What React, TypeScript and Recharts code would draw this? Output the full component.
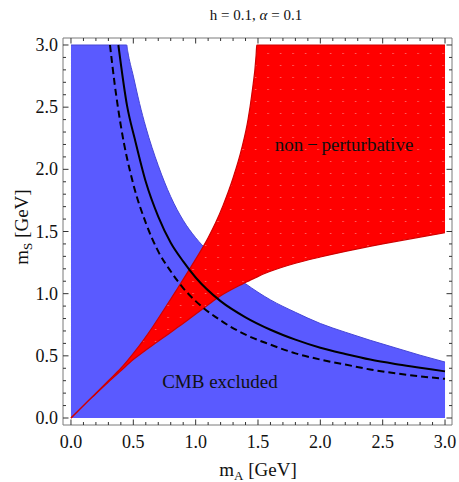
import React from "react";
import {
  ComposedChart,
  Area,
  Line,
  XAxis,
  YAxis,
  ReferenceDot,
} from "recharts";

// CMB exclusion band (upper edge, fills down to 0)
const blueX = [0, 0.2, 0.447, 0.455, 0.5, 0.55, 0.6, 0.7, 0.8, 0.9, 1.0, 1.1, 1.2, 1.4, 1.6, 1.8, 2.0, 2.2, 2.4, 2.6, 2.8, 3.0];
const blueTop = [3, 3, 3, 2.95, 2.75, 2.53, 2.34, 2.03, 1.78, 1.59, 1.45, 1.34, 1.24, 1.08, 0.95, 0.85, 0.76, 0.69, 0.625, 0.565, 0.505, 0.45];

// solid relic curve
const solidX = [0.38, 0.45, 0.513, 0.6, 0.7, 0.8, 0.9, 1.0, 1.2, 1.4, 1.6, 1.8, 2.0, 2.2, 2.4, 2.6, 2.8, 3.0];
const solidY = [3.0, 2.51, 2.24, 1.9, 1.62, 1.41, 1.26, 1.13, 0.94, 0.81, 0.71, 0.63, 0.565, 0.515, 0.47, 0.435, 0.405, 0.375];

// dashed relic curve
const dashedX = [0.313, 0.35, 0.4, 0.5, 0.6, 0.7, 0.8, 0.9, 1.0, 1.2, 1.4, 1.6, 1.8, 2.0, 2.2, 2.4, 2.6, 2.8, 3.0];
const dashedY = [3.0, 2.69, 2.35, 1.88, 1.57, 1.34, 1.18, 1.045, 0.94, 0.785, 0.67, 0.59, 0.52, 0.47, 0.43, 0.39, 0.36, 0.335, 0.315];

// non-perturbative region, lower and upper edges
const redX = [0, 0.1, 0.2, 0.3, 0.4, 0.5, 0.58, 0.66, 0.754, 0.85, 0.94, 1.02, 1.1, 1.16, 1.22, 1.3, 1.37, 1.42, 1.45, 1.485, 1.49, 1.6, 1.8, 2.0, 2.2, 2.5, 2.8, 3.0];
const redLow = [0, 0.1, 0.195, 0.29, 0.38, 0.47, 0.53, 0.59, 0.655, 0.725, 0.79, 0.85, 0.91, 0.955, 0.995, 1.04, 1.075, 1.1, 1.115, 1.13, 1.133, 1.18, 1.245, 1.295, 1.34, 1.4, 1.455, 1.49];
const redHigh = [0, 0.1, 0.2, 0.3, 0.4, 0.52, 0.625, 0.74, 0.885, 1.035, 1.18, 1.31, 1.45, 1.57, 1.71, 1.93, 2.17, 2.4, 2.6, 2.92, 3.0, 3, 3, 3, 3, 3, 3, 3];

const majorTicks = [0, 0.5, 1.0, 1.5, 2.0, 2.5, 3.0];
const allTicks = Array.from({ length: 31 }, (_, i) => i / 10);

const blueData = blueX.map((x, i) => ({ x, y: blueTop[i] }));
const solidData = solidX.map((x, i) => ({ x, y: solidY[i] }));
const dashedData = dashedX.map((x, i) => ({ x, y: dashedY[i] }));
const redData = redX.map((x, i) => ({ x, range: [redLow[i], redHigh[i]] }));

const FONT = "'Liberation Serif', 'Times New Roman', serif";
const FRAME = "#7a7a7a";
const TICK = "#333";

const isMajor = (v: number) => majorTicks.some((m) => Math.abs(m - v) < 1e-6);

function makeTick(side: "bottom" | "left" | "top" | "right") {
  return (props: any) => {
    const { x, y, payload } = props;
    const v = payload.value as number;
    const len = isMajor(v) ? 5.5 : 3;
    let line;
    if (side === "bottom") line = <line x1={x} x2={x} y1={y} y2={y - len} stroke={TICK} />;
    else if (side === "top") line = <line x1={x} x2={x} y1={y} y2={y + len} stroke={TICK} />;
    else if (side === "left") line = <line x1={x} x2={x + len} y1={y} y2={y} stroke={TICK} />;
    else line = <line x1={x} x2={x - len} y1={y} y2={y} stroke={TICK} />;
    return (
      <g>
        {line}
        {isMajor(v) && side === "bottom" && (
          <text x={x} y={y + 23} textAnchor="middle" fontSize={18} fontFamily={FONT} fill="#111">
            {v.toFixed(1)}
          </text>
        )}
        {isMajor(v) && side === "left" && (
          <text x={x - 5} y={y} dy="0.34em" textAnchor="end" fontSize={18} fontFamily={FONT} fill="#111">
            {v.toFixed(1)}
          </text>
        )}
      </g>
    );
  };
}

export default function App() {
  return (
    <div style={{ position: "absolute", left: 0, top: 0, width: 459, height: 482, background: "#fff" }}>
      <ComposedChart width={459} height={482} margin={{ top: 37, right: 6, bottom: 56, left: 62 }}>
        <defs>
          <pattern id="redDots" width="12.5" height="12" patternUnits="userSpaceOnUse">
            <rect width="12.5" height="12" fill="#ff0000" />
            <rect x="5" y="5" width="1.2" height="1" fill="#ff8080" />
          </pattern>
        </defs>
        <XAxis
          xAxisId="b"
          type="number"
          dataKey="x"
          domain={[-0.064, 3.056]}
          ticks={allTicks}
          interval={0}
          height={1}
          tickSize={0}
          tickMargin={0}
          tickLine={false}
          axisLine={{ stroke: FRAME }}
          tick={makeTick("bottom")}
          allowDataOverflow
          label={{
            content: () => (
              <text x={258} y={476} textAnchor="middle" fontSize={19} fontFamily={FONT} fill="#111">
                m<tspan fontSize={13} dy={4}>A</tspan>
                <tspan dy={-4}>{"  [GeV]"}</tspan>
              </text>
            ),
          }}
        />
        <XAxis
          xAxisId="t"
          orientation="top"
          type="number"
          dataKey="x"
          domain={[-0.064, 3.056]}
          ticks={allTicks}
          interval={0}
          height={1}
          tickSize={0}
          tickMargin={0}
          tickLine={false}
          axisLine={{ stroke: FRAME }}
          tick={makeTick("top")}
          allowDataOverflow
          label={{
            content: () => (
              <text x={256} y={20} textAnchor="middle" fontSize={15} fontFamily={FONT} fill="#111">
                {"h = 0.1,  "}
                <tspan fontStyle="italic">α</tspan>
                {" = 0.1"}
              </text>
            ),
          }}
        />
        <YAxis
          yAxisId="l"
          type="number"
          domain={[-0.0563, 3.0563]}
          ticks={allTicks}
          interval={0}
          width={1}
          tickSize={0}
          tickMargin={0}
          tickLine={false}
          axisLine={{ stroke: FRAME }}
          tick={makeTick("left")}
          allowDataOverflow
          label={{
            content: () => (
              <text
                x={28}
                y={227}
                transform="rotate(-90 28 227)"
                textAnchor="middle"
                fontSize={19}
                fontFamily={FONT}
                fill="#111"
              >
                m<tspan fontSize={13} dy={4}>S</tspan>
                <tspan dy={-4}>{"  [GeV]"}</tspan>
              </text>
            ),
          }}
        />
        <YAxis
          yAxisId="r"
          orientation="right"
          type="number"
          domain={[-0.0563, 3.0563]}
          ticks={allTicks}
          interval={0}
          width={1}
          tickSize={0}
          tickMargin={0}
          tickLine={false}
          axisLine={{ stroke: FRAME }}
          tick={makeTick("right")}
          allowDataOverflow
        />
        <Area
          xAxisId="b"
          yAxisId="l"
          data={blueData}
          dataKey="y"
          type="monotone"
          baseValue={0}
          fill="#5a5aff"
          fillOpacity={1}
          stroke="#4646d6"
          strokeWidth={1}
          isAnimationActive={false}
        />
        <Line
          xAxisId="b"
          yAxisId="l"
          data={dashedData}
          dataKey="y"
          type="monotone"
          stroke="#000"
          strokeWidth={2}
          strokeDasharray="7 4"
          dot={false}
          isAnimationActive={false}
        />
        <Line
          xAxisId="b"
          yAxisId="l"
          data={solidData}
          dataKey="y"
          type="monotone"
          stroke="#000"
          strokeWidth={2}
          dot={false}
          isAnimationActive={false}
        />
        <Area
          xAxisId="b"
          yAxisId="l"
          data={redData}
          dataKey="range"
          type="monotone"
          fill="url(#redDots)"
          fillOpacity={1}
          stroke="#d00000"
          strokeWidth={1.2}
          isAnimationActive={false}
        />
        <ReferenceDot
          xAxisId="b"
          yAxisId="l"
          x={1.195}
          y={0.24}
          r={0}
          label={{
            content: (p: any) => (
              <text x={p.viewBox.x} y={p.viewBox.y} textAnchor="middle" fontSize={19} fontFamily={FONT} fill="#111">
                {"CMB  excluded"}
              </text>
            ),
          }}
        />
        <ReferenceDot
          xAxisId="b"
          yAxisId="l"
          x={2.19}
          y={2.15}
          r={0}
          label={{
            content: (p: any) => (
              <text x={p.viewBox.x} y={p.viewBox.y} textAnchor="middle" fontSize={19} fontFamily={FONT} fill="#111">
                {"non\u2009\u2212\u2009perturbative"}
              </text>
            ),
          }}
        />
      </ComposedChart>
    </div>
  );
}
